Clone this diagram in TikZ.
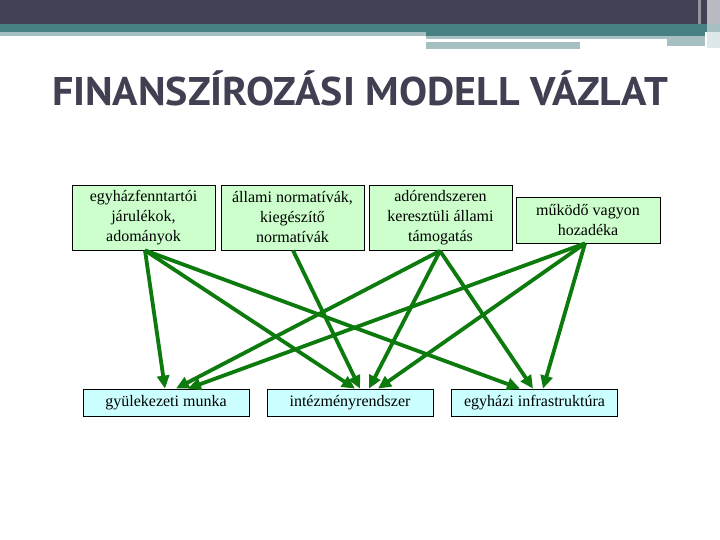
\documentclass[tikz,border=0pt]{standalone}
\usepackage{fontspec}
\setmainfont{Liberation Serif}
\newfontfamily\titlefont{PT Sans}
\usetikzlibrary{arrows.meta}
\definecolor{hdark}{RGB}{65,65,84}
\definecolor{hteal}{RGB}{71,128,131}
\definecolor{hlight}{RGB}{166,191,194}
\definecolor{hpale}{RGB}{220,232,233}
\definecolor{hgray}{RGB}{185,185,194}
\definecolor{titlec}{RGB}{64,64,82}
\definecolor{gfill}{RGB}{204,255,204}
\definecolor{cfill}{RGB}{204,255,255}
\definecolor{arr}{RGB}{12,122,12}
\begin{document}
\begin{tikzpicture}[x=1pt,y=-1pt,
  boxtext/.style={draw=black, line width=0.8pt, align=center, inner sep=0pt,
    font=\fontsize{16}{20}\selectfont},
  topbox/.style={boxtext, fill=gfill, minimum width=143pt, minimum height=65pt},
  botbox/.style={boxtext, fill=cfill, minimum width=166pt, minimum height=27pt},
  flow/.style={draw=arr, line width=3.8pt, -{Triangle[length=13pt,width=12pt]}},
]
\useasboundingbox (0,0) rectangle (720,540);
\fill[white] (0,0) rectangle (720,540);
% header bands
\fill[hdark] (0,0) rectangle (720,24);
\fill[hteal] (0,24) rectangle (720,32);
\fill[hlight] (0,32) rectangle (426,36);
\fill[hteal] (426,32) rectangle (705,36);
\fill[hlight] (426,36) rectangle (667,39);
\fill[hlight] (667,36) rectangle (705,46);
\fill[hlight] (426,42) rectangle (580,49);
\fill[hgray] (707,0) rectangle (720,24);
\fill[hlight] (707,24) rectangle (720,32);
\fill[hpale] (707,32) rectangle (720,48);
\fill[hgray!70!hdark] (698,0) rectangle (701,24);
% title
\node[text=titlec, font=\titlefont\bfseries\fontsize{40}{40}\selectfont, anchor=base, inner sep=0pt]
  (title) at (360,106) {\scalebox{1.05}[1]{FINANSZÍROZÁSI MODELL VÁZLAT}};
% top boxes
\node[topbox] (b1) at (143.5,217.5) {egyházfenntartói\\járulékok,\\adományok};
\node[topbox] (b2) at (292.5,217.5) {állami normatívák,\\kiegészítő\\normatívák};
\node[topbox] (b3) at (440.5,218) {adórendszeren\\keresztüli állami\\támogatás};
\node[topbox, minimum width=144pt, minimum height=46pt] (b4) at (588,220) {működő vagyon\\hozadéka};
% bottom boxes
\node[botbox] (g) at (166,402.5) {gyülekezeti munka};
\node[botbox] (i) at (350,402.5) {intézményrendszer};
\node[botbox] (e) at (534.5,402.5) {egyházi infrastruktúra};
% connectors
\draw[flow] ([xshift=1.5pt]b1.south) -- ([xshift=-1pt]g.north);
\draw[flow] ([xshift=1.5pt]b1.south) -- ([xshift=5pt]i.north);
\draw[flow] ([xshift=1.5pt]b1.south) -- ([xshift=-14.5pt]e.north);
\draw[flow] ([xshift=0.5pt]b2.south) -- ([xshift=10pt]i.north);
\draw[flow] ([xshift=-0.5pt]b3.south) -- ([xshift=10pt]g.north);
\draw[flow] ([xshift=-0.5pt]b3.south) -- ([xshift=19pt]i.north);
\draw[flow] ([xshift=-0.5pt]b3.south) -- ([xshift=-1.5pt]e.north);
\draw[flow] ([xshift=-3pt]b4.south) -- ([xshift=22pt]g.north);
\draw[flow] ([xshift=-3pt]b4.south) -- ([xshift=28pt]i.north);
\draw[flow] ([xshift=-3pt]b4.south) -- ([xshift=8.5pt]e.north);
\end{tikzpicture}
\end{document}
